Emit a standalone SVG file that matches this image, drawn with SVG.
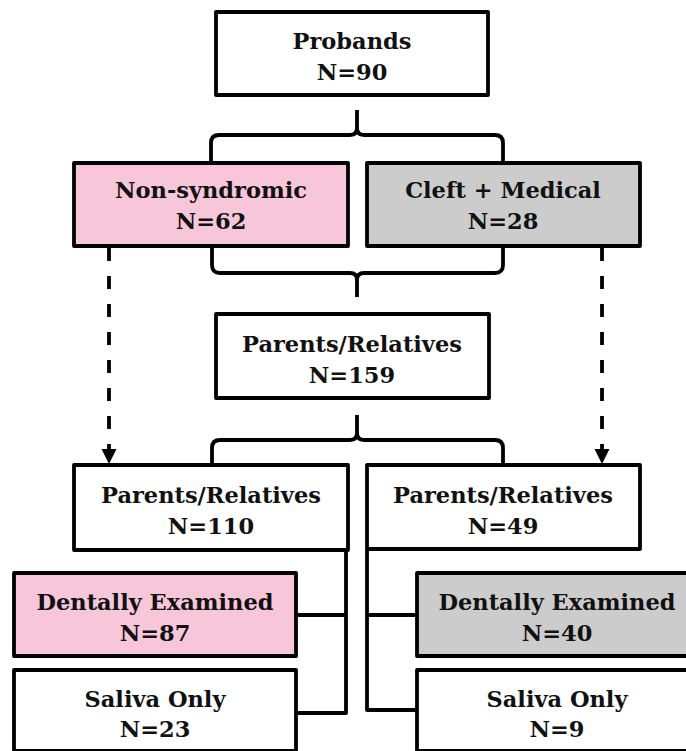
<svg xmlns="http://www.w3.org/2000/svg" width="686" height="751" viewBox="0 0 686 751">
  <style>
    .box { stroke: #000; stroke-width: 3.8; stroke-linejoin: round; fill: #fff; }
    .pink { fill: #f8c6d9; }
    .gray { fill: #cccccc; }
    .lbl { font-family: "DejaVu Serif", "Liberation Serif", serif; font-weight: bold; font-size: 22.5px; fill: #111; text-anchor: middle; }
    .line { fill: none; stroke: #000; stroke-width: 3.8; stroke-linejoin: round; }
    .dash { fill: none; stroke: #000; stroke-width: 3.8; stroke-dasharray: 13 15; }
  </style>
  <defs>
    <marker id="arrow" viewBox="0 0 10 10" refX="10" refY="5" markerWidth="4" markerHeight="4" orient="auto" markerUnits="strokeWidth">
      <path d="M0,0 L10,5 L0,10 Z" fill="#000"/>
    </marker>
  </defs>

  <!-- connectors: braces, dashed arrows and brackets -->
  <g id="connectors">
    <!-- brace from Probands to the two groups -->
    <path class="line" d="M211,162 V143 Q211,135 219,135 H350 Q357,135 357,128 V110 M357,128 Q357,135 364,135 H495 Q503,135 503,143 V162"/>
    <!-- brace from the two groups to Parents/Relatives 159 -->
    <path class="line" d="M212,247 V265 Q212,273 220,273 H350 Q357,273 357,280 V297 M357,280 Q357,273 364,273 H495 Q503,273 503,265 V247"/>
    <!-- brace from Parents/Relatives 159 to the two subsets -->
    <path class="line" d="M212,464 V448 Q212,440 220,440 H350 Q357,440 357,433 V415 M357,433 Q357,440 364,440 H495 Q503,440 503,448 V464"/>
    <!-- dashed arrows -->
    <path class="dash" d="M109,248 V464" marker-end="url(#arrow)"/>
    <path class="dash" d="M602,248 V464" marker-end="url(#arrow)"/>
    <!-- left bracket -->
    <path class="line" d="M346,550 V713 H296 M346,615 H296"/>
    <!-- right bracket -->
    <path class="line" d="M367,550 V710 H417 M367,615 H417"/>
  </g>

  <g id="probands">
    <rect class="box" x="216" y="12" width="272" height="83"/>
    <text class="lbl" x="352" y="49">Probands</text>
    <text class="lbl" x="352" y="80">N=90</text>
  </g>

  <g id="nonsyndromic">
    <rect class="box pink" x="74" y="163" width="274" height="83"/>
    <text class="lbl" x="211" y="198">Non-syndromic</text>
    <text class="lbl" x="211" y="229">N=62</text>
  </g>

  <g id="cleft-medical">
    <rect class="box gray" x="367" y="163" width="273" height="83"/>
    <text class="lbl" x="503" y="198">Cleft + Medical</text>
    <text class="lbl" x="503" y="229">N=28</text>
  </g>

  <g id="relatives-all">
    <rect class="box" x="216" y="314" width="273" height="84"/>
    <text class="lbl" x="352" y="352">Parents/Relatives</text>
    <text class="lbl" x="352" y="383">N=159</text>
  </g>

  <g id="relatives-ns">
    <rect class="box" x="74" y="465" width="274" height="85"/>
    <text class="lbl" x="211" y="503">Parents/Relatives</text>
    <text class="lbl" x="211" y="534">N=110</text>
  </g>

  <g id="relatives-cm">
    <rect class="box" x="367" y="465" width="273" height="84"/>
    <text class="lbl" x="503" y="503">Parents/Relatives</text>
    <text class="lbl" x="503" y="534">N=49</text>
  </g>

  <g id="dental-ns">
    <rect class="box pink" x="14" y="573" width="282" height="83"/>
    <text class="lbl" x="155" y="610">Dentally Examined</text>
    <text class="lbl" x="155" y="641">N=87</text>
  </g>

  <g id="saliva-ns">
    <rect class="box" x="14" y="670" width="282" height="81"/>
    <text class="lbl" x="155" y="707">Saliva Only</text>
    <text class="lbl" x="155" y="737">N=23</text>
  </g>

  <g id="dental-cm">
    <rect class="box gray" x="417" y="573" width="280" height="83"/>
    <text class="lbl" x="557" y="610">Dentally Examined</text>
    <text class="lbl" x="557" y="641">N=40</text>
  </g>

  <g id="saliva-cm">
    <rect class="box" x="417" y="670" width="280" height="81"/>
    <text class="lbl" x="557" y="707">Saliva Only</text>
    <text class="lbl" x="557" y="737">N=9</text>
  </g>
</svg>
